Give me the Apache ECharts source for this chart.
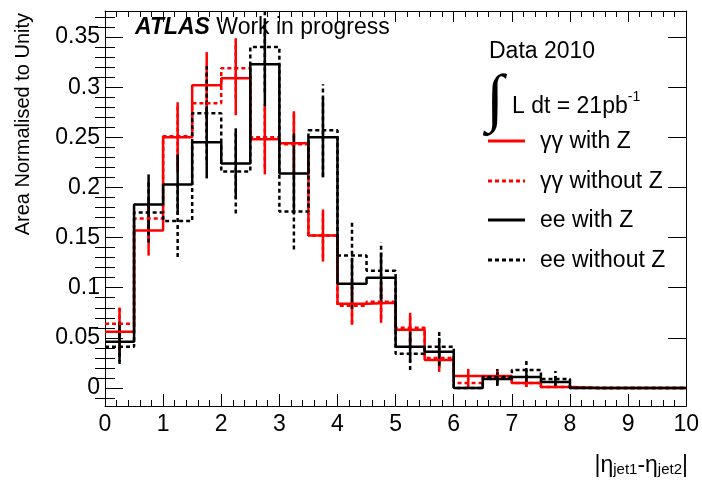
<!DOCTYPE html>
<html>
<head>
<meta charset="utf-8">
<script src="https://cdn.jsdelivr.net/npm/echarts@6/dist/echarts.min.js"></script>
<style>
  html, body { margin: 0; padding: 0; background: #fff; }
  #chart { width: 702px; height: 480px; }
</style>
</head>
<body>
<div id="chart"></div>
<script>
// Bin edges of |eta_jet1 - eta_jet2| (20 bins of 0.5)
const binEdges = [0, 0.5, 1, 1.5, 2, 2.5, 3, 3.5, 4, 4.5, 5, 5.5, 6, 6.5, 7, 7.5, 8, 8.5, 9, 9.5, 10];

// gamma-gamma, with Z
const yyWithZ    = [0.056, 0.157, 0.250, 0.302, 0.309, 0.248, 0.244, 0.152, 0.084, 0.085, 0.058, 0.028, 0.012, 0.012, 0.005, 0.001, 0, 0, 0, 0];
const yyWithZErr = [0.024, 0.025, 0.035, 0.033, 0.037, 0.035, 0.032, 0.026, 0.021, 0.020, 0.017, 0.012, 0.007, 0.006, 0.004, 0.001, 0, 0, 0, 0];

// gamma-gamma, without Z
const yyNoZ      = [0.064, 0.169, 0.251, 0.284, 0.319, 0.250, 0.243, 0.152, 0.082, 0.086, 0.060, 0.030, 0.005, 0.011, 0.005, 0.001, 0, 0, 0, 0];
const yyNoZErr   = [0.016, 0.020, 0.030, 0.030, 0.030, 0.030, 0.030, 0.022, 0.018, 0.017, 0.014, 0.010, 0.004, 0.005, 0.004, 0.001, 0, 0, 0, 0];

// ee, with Z
const eeWithZ    = [0.046, 0.183, 0.203, 0.245, 0.224, 0.323, 0.214, 0.250, 0.104, 0.110, 0.041, 0.036, 0.000, 0.009, 0.011, 0.006, 0, 0, 0, 0];
const eeWithZErr = [0.020, 0.030, 0.030, 0.036, 0.035, 0.042, 0.040, 0.040, 0.025, 0.025, 0.015, 0.014, 0.000, 0.007, 0.007, 0.006, 0, 0, 0, 0];

// ee, without Z
const eeNoZ      = [0.041, 0.175, 0.1665, 0.274, 0.216, 0.340, 0.176, 0.257, 0.132, 0.117, 0.034, 0.041, 0.000, 0.011, 0.018, 0.009, 0, 0, 0, 0];
const eeNoZErr   = [0.017, 0.030, 0.036, 0.047, 0.042, 0.045, 0.038, 0.046, 0.034, 0.028, 0.016, 0.017, 0.000, 0.008, 0.009, 0.008, 0, 0, 0, 0];

// Axis tick values
const yMajorTicks = [0, 0.05, 0.1, 0.15, 0.2, 0.25, 0.3, 0.35];
const yMinorTicks = [-0.01, 0.01, 0.02, 0.03, 0.04, 0.06, 0.07, 0.08, 0.09, 0.11, 0.12, 0.13, 0.14,
                     0.16, 0.17, 0.18, 0.19, 0.21, 0.22, 0.23, 0.24, 0.26, 0.27, 0.28, 0.29,
                     0.31, 0.32, 0.33, 0.34, 0.36, 0.37];

const FONT = '"Liberation Sans", Arial, Helvetica, sans-serif';
const FS = 23;
const RED = '#ff0000';
const BLACK = '#000000';
const DOTS = [4, 3];
const Y_MIN = -0.018, Y_MAX = 0.376;

function histSeries(name, vals, color, dotted) {
  const data = binEdges.map((x, i) => [x, vals[Math.min(i, vals.length - 1)]]);
  return {
    name, type: 'line', step: 'end', data,
    symbol: 'none', showSymbol: false, animation: false, silent: true, clip: true,
    lineStyle: { color, width: 2.5, type: dotted ? DOTS : 'solid', cap: 'butt' },
    xAxisIndex: 0, yAxisIndex: 0
  };
}

function errorSeries(vals, errs, color, dotted) {
  const data = [];
  vals.forEach((v, i) => {
    if (errs[i] > 0) data.push([(binEdges[i] + binEdges[i + 1]) / 2, v - errs[i], v + errs[i]]);
  });
  return {
    type: 'custom', data, clip: true, animation: false, silent: true,
    xAxisIndex: 0, yAxisIndex: 0,
    encode: { x: 0, y: [1, 2] },
    renderItem(params, api) {
      const lo = api.coord([api.value(0), api.value(1)]);
      const hi = api.coord([api.value(0), api.value(2)]);
      return {
        type: 'line',
        shape: { x1: lo[0], y1: lo[1], x2: hi[0], y2: hi[1] },
        style: { stroke: color, lineWidth: 2.5, lineDash: dotted ? DOTS : null }
      };
    }
  };
}

const frameLine = { show: true, onZero: false, lineStyle: { color: BLACK, width: 1 } };
const tickStyle = { color: BLACK, width: 1 };

function xAxisDef(pos, showLabels, major, minor) {
  return {
    type: 'value', position: pos, min: 0, max: 10, interval: 1,
    axisLine: frameLine,
    axisTick: { show: true, inside: true, length: major, lineStyle: tickStyle },
    minorTick: { show: true, splitNumber: 5, length: minor, lineStyle: tickStyle },
    splitLine: { show: false },
    axisLabel: { show: showLabels, color: BLACK, fontFamily: FONT, fontSize: FS, margin: 7 }
  };
}

function yAxisDef(pos, ticks, length, showLabels, showLine) {
  return {
    type: 'value', position: pos, min: Y_MIN, max: Y_MAX,
    axisLine: showLine ? frameLine : { show: false },
    axisTick: { show: true, inside: true, length, customValues: ticks, lineStyle: tickStyle },
    splitLine: { show: false },
    axisLabel: {
      show: showLabels, customValues: ticks, color: BLACK, fontFamily: FONT, fontSize: FS, margin: 5,
      formatter: v => String(+(+v).toFixed(3))
    }
  };
}

const legendRows = [
  { label: 'γγ with Z', color: RED, dotted: false, y: 141 },
  { label: 'γγ without Z', color: RED, dotted: true, y: 181 },
  { label: 'ee with Z', color: BLACK, dotted: false, y: 220 },
  { label: 'ee without Z', color: BLACK, dotted: true, y: 260 }
];

const graphics = [
  {
    type: 'text', x: 135, y: 28,
    style: {
      text: '{b|ATLAS} Work in progress',
      fontFamily: FONT, fontSize: FS, fill: BLACK, align: 'left', verticalAlign: 'middle',
      rich: { b: { fontFamily: FONT, fontSize: FS, fontWeight: 'bold', fontStyle: 'italic', fill: BLACK } }
    }
  },
  {
    type: 'text', x: 489, y: 52,
    style: { text: 'Data 2010', fontFamily: FONT, fontSize: FS, fill: BLACK, align: 'left', verticalAlign: 'middle' }
  },
  {
    type: 'text', x: 495, y: 102,
    style: { text: '∫', fontFamily: '"Liberation Serif", "DejaVu Serif", serif', fontSize: 64, fill: BLACK, align: 'center', verticalAlign: 'middle' }
  },
  {
    type: 'text', x: 512, y: 104,
    style: {
      text: '{n|L dt = 21pb}{s|-1}',
      align: 'left', verticalAlign: 'middle',
      rich: {
        n: { fontFamily: FONT, fontSize: FS, fill: BLACK, lineHeight: 28, verticalAlign: 'bottom' },
        s: { fontFamily: FONT, fontSize: 14, fill: BLACK, lineHeight: 16, verticalAlign: 'top' }
      }
    }
  },
  {
    type: 'text', x: 23, y: 13, rotation: Math.PI / 2,
    style: { text: 'Area Normalised to Unity', fontFamily: FONT, fontSize: 20, fill: BLACK, align: 'right', verticalAlign: 'middle' }
  },
  {
    type: 'text', x: 688, y: 462,
    style: {
      text: '{m||η}{s|jet1}{m|-η}{s|jet2}{m||}',
      align: 'right', verticalAlign: 'middle',
      rich: {
        m: { fontFamily: FONT, fontSize: FS, fill: BLACK, lineHeight: 30, verticalAlign: 'bottom' },
        s: { fontFamily: FONT, fontSize: 15, fill: BLACK, lineHeight: 15, verticalAlign: 'bottom' }
      }
    }
  }
];

legendRows.forEach(r => {
  graphics.push({
    type: 'line', shape: { x1: 488, y1: r.y, x2: 525, y2: r.y },
    style: { stroke: r.color, lineWidth: 3, lineDash: r.dotted ? DOTS : null }
  });
  graphics.push({
    type: 'text', x: 540, y: r.y + 1,
    style: { text: r.label, fontFamily: FONT, fontSize: FS, fill: BLACK, align: 'left', verticalAlign: 'middle' }
  });
});

const chart = echarts.init(document.getElementById('chart'), null, { renderer: 'canvas' });
chart.setOption({
  animation: false,
  backgroundColor: '#ffffff',
  grid: { left: 105, right: 14, top: 11, bottom: 74, containLabel: false },
  xAxis: [
    xAxisDef('bottom', true, 12, 6),
    xAxisDef('top', false, 11, 6)
  ],
  yAxis: [
    yAxisDef('left', yMajorTicks, 18, true, true),
    yAxisDef('left', yMinorTicks, 10, false, false),
    yAxisDef('right', yMajorTicks, 18, false, true),
    yAxisDef('right', yMinorTicks, 10, false, false)
  ],
  series: [
    histSeries('γγ with Z', yyWithZ, RED, false),
    errorSeries(yyWithZ, yyWithZErr, RED, false),
    histSeries('γγ without Z', yyNoZ, RED, true),
    errorSeries(yyNoZ, yyNoZErr, RED, true),
    histSeries('ee with Z', eeWithZ, BLACK, false),
    errorSeries(eeWithZ, eeWithZErr, BLACK, false),
    histSeries('ee without Z', eeNoZ, BLACK, true),
    errorSeries(eeNoZ, eeNoZErr, BLACK, true)
  ],
  graphic: graphics
});
</script>
</body>
</html>
